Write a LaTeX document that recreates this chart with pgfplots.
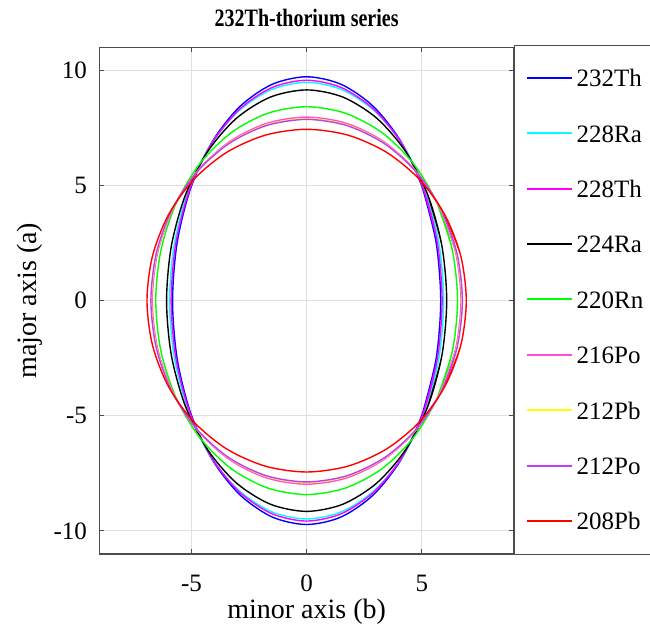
\documentclass[border=0pt]{standalone}
\usepackage{pgfplots}
\pgfplotsset{compat=1.18}
\usepackage{fontspec}
\setmainfont{Liberation Serif}
\definecolor{axgray}{gray}{0.3}
\definecolor{cBlue}{RGB}{0,0,255}
\definecolor{cCyan}{RGB}{0,255,255}
\definecolor{cMag}{RGB}{255,0,255}
\definecolor{cBlack}{RGB}{0,0,0}
\definecolor{cGreen}{RGB}{0,255,0}
\definecolor{cPink}{RGB}{255,80,210}
\definecolor{cYellow}{RGB}{255,255,0}
\definecolor{cViolet}{RGB}{190,60,255}
\definecolor{cRed}{RGB}{255,0,0}
\begin{document}
\begin{tikzpicture}
\begin{axis}[
  at={(49.65pt,36.5pt)}, anchor=south west,
  scale only axis, width=207.35pt, height=253.35pt,
  xmin=-9, xmax=9, ymin=-11, ymax=11,
  xtick={-5,0,5}, ytick={-10,-5,0,5,10},
  tick pos=both, tick align=inside, major tick length=2.5pt,
  every tick/.style={axgray, line width=0.5pt},
  axis line style={axgray, line width=0.7pt},
  grid=major, major grid style={black!12, line width=0.5pt},
  /pgf/number format/assume math mode=true,
  tick label style={font=\fontsize{12.5}{15}\selectfont, inner sep=0pt},
  xticklabel style={anchor=base, yshift=-19pt},
  yticklabel style={anchor=east, xshift=-6pt},
  every axis x label/.style={at={(axis description cs:0.5,-0.128)}, anchor=base},
  every axis y label/.style={at={(axis description cs:-0.151,0.5)}, rotate=90, anchor=base},
  every axis title/.style={at={(axis description cs:0.5,1.042)}, anchor=base},
  label style={font=\fontsize{14}{17}\selectfont},
  title style={font=\bfseries\fontsize{12.5}{15}\selectfont, xscale=0.8},
  xlabel={minor axis (b)}, ylabel={major axis (a)},
  title={232Th-thorium series},
  legend cell align=left,
  legend image code/.code={\draw[#1, line width=1pt] (0pt,0.3pt) -- (22.5pt,0.3pt);},
  legend style={at={(axis description cs:1,1)}, anchor=north west, yshift=1.15pt,
    draw=axgray, line width=0.7pt, inner xsep=5.5pt, inner ysep=12.2pt, row sep=19.4pt,
    column sep=2pt, font=\fontsize{12.5}{15}\selectfont, text=black,
    nodes={inner sep=0pt, text height=8.3pt, text depth=0pt}},
  every axis plot/.append style={line width=0.7pt, smooth},
]
\addplot[color=cBlue] coordinates {(5.0403,-4.86) (5.6217,-2.5157) (5.82,0) (5.6217,2.5157) (5.0403,4.86) (4.1154,6.8731) (2.91,8.4178) (1.5063,9.3888) (0,9.72) (-1.5063,9.3888) (-2.91,8.4178) (-4.1154,6.8731) (-5.0403,4.86) (-5.6217,2.5157) (-5.82,0) (-5.6217,-2.5157) (-5.0403,-4.86) (-4.1154,-6.8731) (-2.91,-8.4178) (-1.5063,-9.3888) (0,-9.72) (1.5063,-9.3888) (2.91,-8.4178) (4.1154,-6.8731) (5.0403,-4.86) (5.6217,-2.5157) (5.82,0) (5.6217,2.5157) (5.0403,4.86)};
\addlegendentry{232Th}
\addplot[color=cCyan] coordinates {(5.1529,-4.74) (5.7473,-2.4536) (5.95,0) (5.7473,2.4536) (5.1529,4.74) (4.2073,6.7034) (2.975,8.21) (1.54,9.157) (0,9.48) (-1.54,9.157) (-2.975,8.21) (-4.2073,6.7034) (-5.1529,4.74) (-5.7473,2.4536) (-5.95,0) (-5.7473,-2.4536) (-5.1529,-4.74) (-4.2073,-6.7034) (-2.975,-8.21) (-1.54,-9.157) (0,-9.48) (1.54,-9.157) (2.975,-8.21) (4.2073,-6.7034) (5.1529,-4.74) (5.7473,-2.4536) (5.95,0) (5.7473,2.4536) (5.1529,4.74)};
\addlegendentry{228Ra}
\addplot[color=cMag] coordinates {(5.0923,-4.785) (5.6797,-2.4769) (5.88,0) (5.6797,2.4769) (5.0923,4.785) (4.1578,6.767) (2.94,8.2879) (1.5219,9.244) (0,9.57) (-1.5219,9.244) (-2.94,8.2879) (-4.1578,6.767) (-5.0923,4.785) (-5.6797,2.4769) (-5.88,0) (-5.6797,-2.4769) (-5.0923,-4.785) (-4.1578,-6.767) (-2.94,-8.2879) (-1.5219,-9.244) (0,-9.57) (1.5219,-9.244) (2.94,-8.2879) (4.1578,-6.767) (5.0923,-4.785) (5.6797,-2.4769) (5.88,0) (5.6797,2.4769) (5.0923,4.785)};
\addlegendentry{228Th}
\addplot[color=cBlack] coordinates {(5.2655,-4.575) (5.8729,-2.3682) (6.08,0) (5.8729,2.3682) (5.2655,4.575) (4.2992,6.4701) (3.04,7.9242) (1.5736,8.8383) (0,9.15) (-1.5736,8.8383) (-3.04,7.9242) (-4.2992,6.4701) (-5.2655,4.575) (-5.8729,2.3682) (-6.08,0) (-5.8729,-2.3682) (-5.2655,-4.575) (-4.2992,-6.4701) (-3.04,-7.9242) (-1.5736,-8.8383) (0,-9.15) (1.5736,-8.8383) (3.04,-7.9242) (4.2992,-6.4701) (5.2655,-4.575) (5.8729,-2.3682) (6.08,0) (5.8729,2.3682) (5.2655,4.575)};
\addlegendentry{224Ra}
\addplot[color=cGreen] coordinates {(5.6725,-4.21) (6.3268,-2.1793) (6.55,0) (6.3268,2.1793) (5.6725,4.21) (4.6316,5.9539) (3.275,7.292) (1.6953,8.1331) (0,8.42) (-1.6953,8.1331) (-3.275,7.292) (-4.6316,5.9539) (-5.6725,4.21) (-6.3268,2.1793) (-6.55,0) (-6.3268,-2.1793) (-5.6725,-4.21) (-4.6316,-5.9539) (-3.275,-7.292) (-1.6953,-8.1331) (0,-8.42) (1.6953,-8.1331) (3.275,-7.292) (4.6316,-5.9539) (5.6725,-4.21) (6.3268,-2.1793) (6.55,0) (6.3268,2.1793) (5.6725,4.21)};
\addlegendentry{220Rn}
\addplot[color=cPink] coordinates {(5.8024,-3.985) (6.4717,-2.0628) (6.7,0) (6.4717,2.0628) (5.8024,3.985) (4.7376,5.6357) (3.35,6.9023) (1.7341,7.6985) (0,7.97) (-1.7341,7.6985) (-3.35,6.9023) (-4.7376,5.6357) (-5.8024,3.985) (-6.4717,2.0628) (-6.7,0) (-6.4717,-2.0628) (-5.8024,-3.985) (-4.7376,-5.6357) (-3.35,-6.9023) (-1.7341,-7.6985) (0,-7.97) (1.7341,-7.6985) (3.35,-6.9023) (4.7376,-5.6357) (5.8024,-3.985) (6.4717,-2.0628) (6.7,0) (6.4717,2.0628) (5.8024,3.985)};
\addlegendentry{216Po}
\addplot[color=cYellow] coordinates {(5.837,-3.95) (6.5104,-2.0447) (6.74,0) (6.5104,2.0447) (5.837,3.95) (4.7659,5.5862) (3.37,6.8416) (1.7444,7.6308) (0,7.9) (-1.7444,7.6308) (-3.37,6.8416) (-4.7659,5.5862) (-5.837,3.95) (-6.5104,2.0447) (-6.74,0) (-6.5104,-2.0447) (-5.837,-3.95) (-4.7659,-5.5862) (-3.37,-6.8416) (-1.7444,-7.6308) (0,-7.9) (1.7444,-7.6308) (3.37,-6.8416) (4.7659,-5.5862) (5.837,-3.95) (6.5104,-2.0447) (6.74,0) (6.5104,2.0447) (5.837,3.95)};
\addlegendentry{212Pb}
\addplot[color=cViolet] coordinates {(5.8544,-3.935) (6.5297,-2.0369) (6.76,0) (6.5297,2.0369) (5.8544,3.935) (4.7801,5.565) (3.38,6.8157) (1.7496,7.6019) (0,7.87) (-1.7496,7.6019) (-3.38,6.8157) (-4.7801,5.565) (-5.8544,3.935) (-6.5297,2.0369) (-6.76,0) (-6.5297,-2.0369) (-5.8544,-3.935) (-4.7801,-5.565) (-3.38,-6.8157) (-1.7496,-7.6019) (0,-7.87) (1.7496,-7.6019) (3.38,-6.8157) (4.7801,-5.565) (5.8544,-3.935) (6.5297,-2.0369) (6.76,0) (6.5297,2.0369) (5.8544,3.935)};
\addlegendentry{212Po}
\addplot[color=cRed] coordinates {(6.0016,-3.72) (6.6939,-1.9256) (6.93,0) (6.6939,1.9256) (6.0016,3.72) (4.9003,5.2609) (3.465,6.4433) (1.7936,7.1865) (0,7.44) (-1.7936,7.1865) (-3.465,6.4433) (-4.9003,5.2609) (-6.0016,3.72) (-6.6939,1.9256) (-6.93,0) (-6.6939,-1.9256) (-6.0016,-3.72) (-4.9003,-5.2609) (-3.465,-6.4433) (-1.7936,-7.1865) (0,-7.44) (1.7936,-7.1865) (3.465,-6.4433) (4.9003,-5.2609) (6.0016,-3.72) (6.6939,-1.9256) (6.93,0) (6.6939,1.9256) (6.0016,3.72)};
\addlegendentry{208Pb}
\end{axis}
\pgfresetboundingbox
\path[use as bounding box] (0pt,0pt) rectangle (325pt,313.5pt);
\end{tikzpicture}
\end{document}
